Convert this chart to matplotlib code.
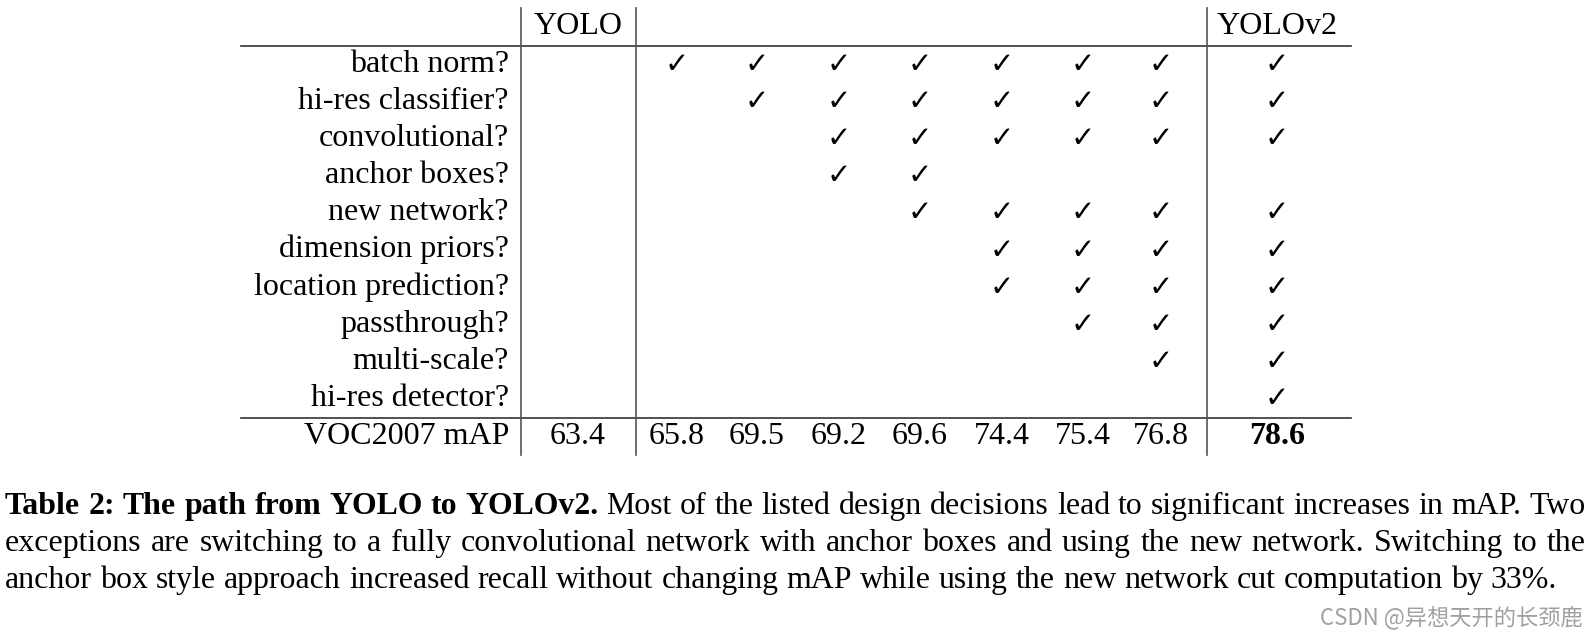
import matplotlib
matplotlib.use("Agg")
import matplotlib.pyplot as plt

# ------------------------------
# Data
# ------------------------------
row_labels = [
    "batch norm?", "hi-res classifier?", "convolutional?", "anchor boxes?",
    "new network?", "dimension priors?", "location prediction?",
    "passthrough?", "multi-scale?", "hi-res detector?",
]
col_headers = ["YOLO", "", "", "", "", "", "", "", "YOLOv2"]
# column index (0 = YOLO, 8 = YOLOv2) that carries a check mark, per row
checks = [
    [1, 2, 3, 4, 5, 6, 7, 8],
    [2, 3, 4, 5, 6, 7, 8],
    [3, 4, 5, 6, 7, 8],
    [3, 4],
    [4, 5, 6, 7, 8],
    [5, 6, 7, 8],
    [5, 6, 7, 8],
    [6, 7, 8],
    [7, 8],
    [8],
]
map_label = "VOC2007 mAP"
map_values = ["63.4", "65.8", "69.5", "69.2", "69.6", "74.4", "75.4", "76.8", "78.6"]

caption_lines = [
    [("Table 2: The path from YOLO to YOLOv2.", "bold"),
     ("Most of the listed design decisions lead to significant increases in mAP. Two", "normal")],
    [("exceptions are switching to a fully convolutional network with anchor boxes and using the new network.  Switching to the", "normal")],
    [("anchor box style approach increased recall without changing mAP while using the new network cut computation by 33%.", "normal")],
]
watermark = "CSDN @异想天开的长颈鹿"

# ------------------------------
# Layout (pixels)
# ------------------------------
W, H, DPI = 1596, 633, 100
SERIF = ["Liberation Serif", "DejaVu Serif"]
FS = 23
CAP_FS = 22.95
col_x = [578, 677, 757, 839, 920, 1002, 1083, 1161, 1277]
label_right = 509
header_base = 34
row_base0, row_step = 72, 37.1
map_base = 444
rule_color = "#333333"

fig = plt.figure(figsize=(W / DPI, H / DPI), dpi=DPI)
ax = fig.add_axes([0, 0, 1, 1])
ax.set_xlim(0, W)
ax.set_ylim(H, 0)
ax.axis("off")

# rules
ax.plot([241, 1351], [46, 46], color=rule_color, lw=1.2)
ax.plot([241, 1351], [418, 418], color=rule_color, lw=1.2)
for vx in [521, 636, 1207]:
    ax.plot([vx, vx], [8, 455], color="#555555", lw=1.2)

# header
for x, h in zip(col_x, col_headers):
    if h:
        ax.text(x, header_base, h, fontsize=FS, family=SERIF, ha="center", va="baseline")

# body rows
for i, (lab, cols) in enumerate(zip(row_labels, checks)):
    y = row_base0 + i * row_step
    ax.text(label_right, y, lab, fontsize=FS, family=SERIF, ha="right", va="baseline")
    for c in cols:
        ax.text(col_x[c], y + 1, "✓", fontsize=21, family=["DejaVu Sans"],
                ha="center", va="baseline")

# mAP row
ax.text(label_right, map_base, map_label, fontsize=FS, family=SERIF, ha="right", va="baseline")
for j, (x, v) in enumerate(zip(col_x, map_values)):
    ax.text(x, map_base, v, fontsize=FS, family=SERIF, ha="center", va="baseline",
            fontweight="bold" if j == len(map_values) - 1 else "normal")

# caption, first two lines justified
renderer = fig.canvas.get_renderer()
cap_left, cap_right = 5, 1586
cap_base = [514, 551, 588]
space = CAP_FS * DPI / 72 * 0.25
for k, segs in enumerate(caption_lines):
    words = [(w, wt) for s, wt in segs for w in s.split()]
    texts, widths = [], []
    for w, wt in words:
        t = ax.text(0, cap_base[k], w, fontsize=CAP_FS, family=SERIF, fontweight=wt,
                    ha="left", va="baseline")
        texts.append(t)
        widths.append(t.get_window_extent(renderer).width)
    if k < len(caption_lines) - 1:
        gap = (cap_right - cap_left - sum(widths)) / (len(words) - 1)
    else:
        gap = space
    x = cap_left
    for t, w in zip(texts, widths):
        t.set_x(x)
        x += w + gap

ax.text(1583, 617, watermark, fontsize=16, color="#a0a0a0",
        family=["Noto Sans CJK SC", "DejaVu Sans"], ha="right", va="center")

fig.savefig("out.png", dpi=DPI)
